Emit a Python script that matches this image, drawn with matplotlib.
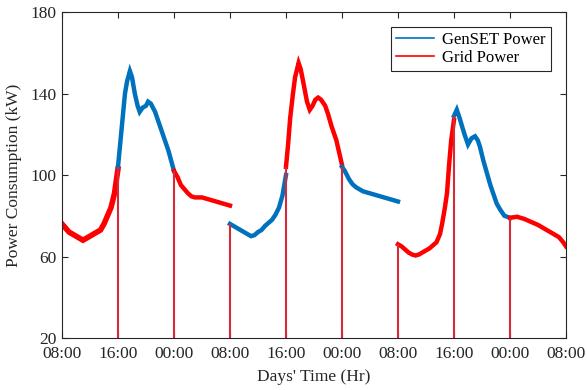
import numpy as np
import matplotlib.pyplot as plt

plt.rcParams['font.family'] = ['Liberation Serif', 'DejaVu Serif']

# hours since 08:00 on day 1, one list per supply period
seg_hours = [
    [0, 0.5, 1, 1.5, 2, 2.5, 3, 3.5, 4, 4.5, 5, 5.5, 6, 6.5, 7, 7.5, 8],
    [8, 8.5, 9, 9.3, 9.7, 10, 10.4, 10.8, 11.1, 11.5, 12, 12.3, 12.7, 13, 13.3, 13.7, 14.2, 14.7, 15.2, 15.6, 16],
    [16, 16.5, 17, 17.5, 18, 18.5, 19, 20, 21, 22, 23, 24],
    [24, 24.5, 25, 25.5, 26, 26.5, 27, 27.5, 28, 28.5, 29, 29.5, 30, 30.5, 31, 31.5, 32],
    [32, 32.3, 32.6, 33, 33.3, 33.8, 34.1, 34.5, 35, 35.4, 35.8, 36.2, 36.6, 37, 37.6, 38, 38.5, 39.2, 39.6, 40],
    [40, 40.4, 41, 41.5, 42, 43, 44, 45, 46, 47, 48],
    [48, 48.5, 49, 49.5, 50, 50.5, 51, 51.5, 52, 52.5, 53, 53.5, 54, 54.3, 54.7, 55, 55.3, 55.6, 56],
    [56, 56.4, 56.8, 57.1, 57.5, 58, 58.5, 59, 59.4, 59.7, 60.2, 60.7, 61.2, 61.6, 62.1, 62.6, 63.2, 64],
    [64, 65, 66, 67, 68, 69, 70, 71, 71.6, 72],
]
seg_power = [
    [76, 74, 72, 71, 70, 69, 68, 69, 70, 71, 72, 73, 76, 80, 84, 91, 103],
    [104, 122, 140, 146, 151, 148, 140, 134, 131, 133, 134, 136, 135, 133, 131, 127, 122, 117, 112, 107, 102],
    [102, 99, 95, 93, 91, 89.5, 89, 89, 88, 87, 86, 85],
    [76, 75, 74, 73, 72, 71, 70, 70.5, 72, 73, 75, 76.5, 78, 80.5, 84, 90, 100],
    [104, 115, 128, 140, 148, 155, 152, 145, 136, 132, 134, 137, 138, 137, 134, 130, 124, 117, 111, 105],
    [104, 102, 98, 95.5, 94, 92, 91, 90, 89, 88, 87],
    [66, 65, 63.5, 62, 61, 60.5, 61, 62, 63, 64, 65.5, 67, 71, 76, 84, 91, 105, 117, 127],
    [129, 132, 128, 124.5, 120, 115, 118, 119, 117, 114, 107, 101, 95, 91, 86, 83, 80, 79],
    [79, 79.5, 78.5, 77, 75.5, 73.5, 71.5, 69.5, 67, 65],
]
seg_source = ['Grid', 'GenSET', 'Grid', 'GenSET', 'Grid', 'GenSET', 'Grid', 'GenSET', 'Grid']
switch_hours = [8, 16, 24, 32, 40, 48, 56, 64]
tick_hours = [0, 8, 16, 24, 32, 40, 48, 56, 64, 72]
tick_labels = ['08:00', '16:00', '00:00', '08:00', '16:00', '00:00', '08:00', '16:00', '00:00', '08:00']

colors = {'GenSET': '#0072BD', 'Grid': '#FF0000'}

fig = plt.figure(figsize=(5.87, 3.90), dpi=100)
ax = fig.add_axes([0.1056, 0.1333, 0.8586, 0.8359])

for h, p, s in zip(seg_hours, seg_power, seg_source):
    lw = 4.0 if (s == 'Grid' and h[0] == 0) else 3.2
    ax.plot(h, p, color=colors[s], lw=lw, solid_joinstyle='miter')

# supply switch-over: power drops to zero
ax.vlines(switch_hours, 0, [seg_power[i + 1][0] for i in range(len(switch_hours))],
          color='#D42A3A', lw=1.5)

ax.plot([], [], color=colors['GenSET'], lw=1.2, label='GenSET Power')
ax.plot([], [], color=colors['Grid'], lw=1.2, label='Grid Power')

ax.set_xlim(0, 72)
ax.set_ylim(20, 180)
ax.set_xticks(tick_hours)
ax.set_xticklabels(tick_labels)
ax.set_yticks([20, 60, 100, 140, 180])
ax.tick_params(direction='in', top=True, right=True, labelsize=12.5, colors='#262626', length=4)
ax.tick_params(axis='y', pad=4)
ax.tick_params(axis='x', pad=6)
for sp in ax.spines.values():
    sp.set_color('#262626')
ax.set_xlabel("Days' Time (Hr)", fontsize=12.5, color='#262626', labelpad=5)
ax.set_ylabel('Power Consumption (kW)', fontsize=12.5, color='#262626', labelpad=6)

leg = ax.legend(loc='upper right', fontsize=12, fancybox=False, framealpha=1,
                edgecolor='#262626', handlelength=2.3, handletextpad=0.5,
                borderaxespad=0.9, borderpad=0.3, labelspacing=0.1)
leg.get_frame().set_linewidth(0.8)

fig.savefig('out.png', dpi=100)
